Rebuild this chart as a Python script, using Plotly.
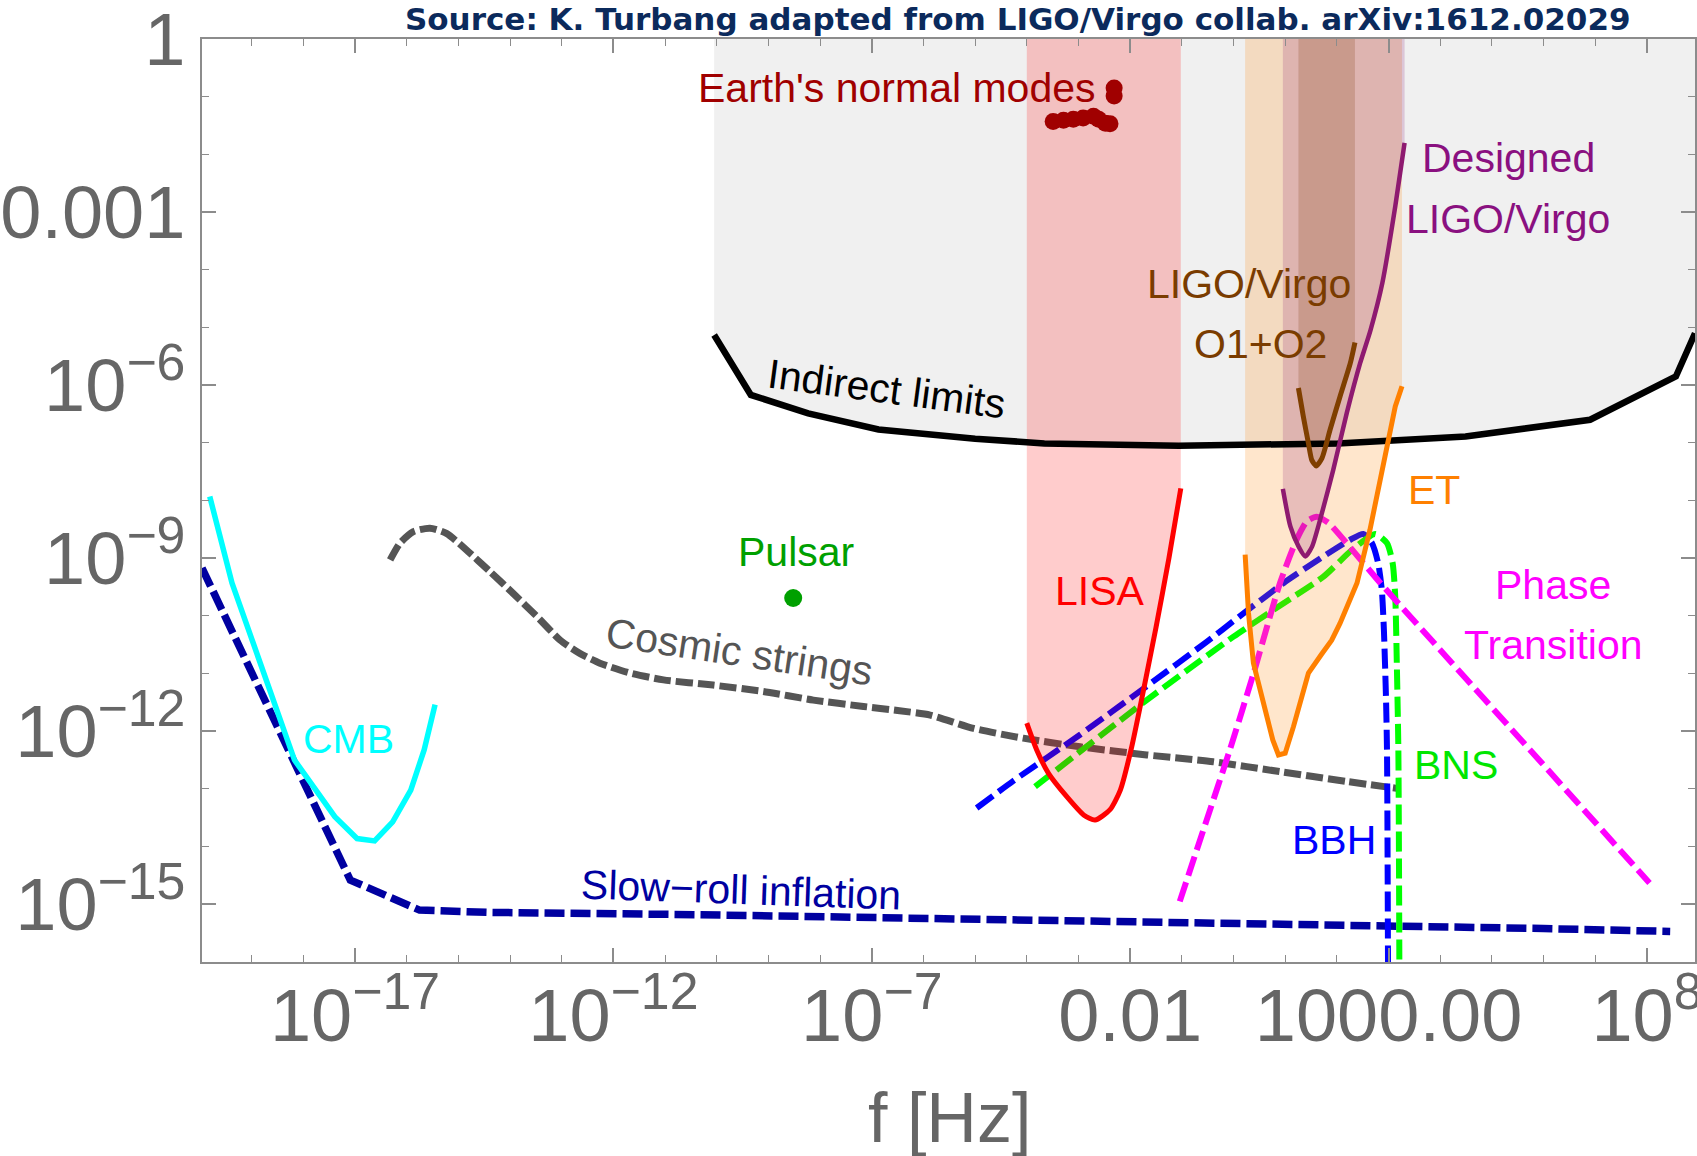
import numpy as np
import plotly.graph_objects as go

# ---------------- data: log10(f / Hz) and log10(Omega_GW) ----------------
indirect_logf = [-10.05, -9.34, -8.23, -6.87, -5.0, -3.66, -1.06, 2.02, 4.49, 6.90, 8.56, 8.93]
indirect_logom = [-5.13, -6.17, -6.49, -6.77, -6.93, -7.01, -7.05, -7.01, -6.89, -6.60, -5.85, -5.10]

slowroll_logf = [-19.96, -17.09, -15.75, -14.4, -10.35, -5.0, 0.0, 3.0, 6.0, 8.45]
slowroll_logom = [-9.17, -14.58, -15.10, -15.14, -15.18, -15.25, -15.31, -15.36, -15.42, -15.47]

cmb_logf = [-19.81, -19.38, -18.17, -17.39, -16.96, -16.62, -16.27, -15.92, -15.66, -15.45]
cmb_logom = [-7.93, -9.43, -12.50, -13.48, -13.86, -13.90, -13.57, -13.02, -12.32, -11.54]

cosmic_logf = [-16.32, -16.13, -15.87, -15.55, -15.23, -14.84, -14.39, -13.94, -13.48, -13.03,
               -12.65, -12.26, -11.68, -11.03, -10.07, -9.10, -8.13, -7.16, -6.50, -5.87,
               -5.03, -4.07, -2.97, -1.68, -0.39, 0.90, 2.19, 3.16]
cosmic_logom = [-9.03, -8.74, -8.54, -8.48, -8.57, -8.86, -9.23, -9.61, -10.01, -10.42,
                -10.65, -10.82, -10.99, -11.11, -11.20, -11.31, -11.46, -11.57, -11.64, -11.72,
                -11.95, -12.12, -12.27, -12.41, -12.53, -12.70, -12.87, -12.99]

bbh_logf = [-4.97, -4.26, -2.97, -1.68, -0.52, 0.13, 0.97, 1.74, 2.26, 2.51, 2.68, 2.80, 2.87, 2.91, 2.95, 2.97, 2.99]
bbh_logom = [-13.33, -12.86, -12.06, -11.22, -10.45, -10.0, -9.43, -8.97, -8.68, -8.58, -8.74, -9.09, -9.55, -10.24, -11.40, -12.32, -16.2]

bns_logf = [-3.84, -1.68, 0.0, 0.97, 1.74, 2.30, 2.74, 2.97, 3.08, 3.13, 3.16, 3.19, 3.21]
bns_logom = [-12.96, -11.46, -10.36, -9.78, -9.32, -8.85, -8.58, -8.74, -9.09, -9.67, -10.82, -12.32, -16.2]

pt_logf = [-1.04, -0.52, -0.07, 0.39, 0.90, 1.22, 1.42, 1.61, 1.84, 2.19, 2.84, 4.0, 8.05]
pt_logom = [-14.95, -13.54, -12.32, -10.99, -9.43, -8.68, -8.36, -8.28, -8.39, -8.74, -9.43, -10.59, -14.63]

lisa_logf = [-4.0, -3.81, -3.58, -3.23, -2.90, -2.68, -2.39, -2.19, -1.97, -1.74, -1.50, -1.25, -1.02]
lisa_logom = [-11.86, -12.32, -12.73, -13.13, -13.45, -13.54, -13.36, -13.02, -12.27, -11.28, -10.2, -9.0, -7.79]

et_logf = [0.225, 0.29, 0.385, 0.515, 0.65, 0.76, 0.87, 1.0, 1.16, 1.32, 1.45, 1.70, 1.90, 2.06, 2.39, 2.64, 2.84, 3.0, 3.13, 3.26]
et_logom = [-8.94, -9.95, -10.82, -11.30, -11.80, -12.15, -12.41, -12.38, -11.92, -11.40, -10.99, -10.67, -10.42, -10.13, -9.43, -8.51, -7.64, -6.89, -6.37, -6.02]

design_logf = [0.955, 1.10, 1.26, 1.39, 1.52, 1.71, 1.93, 2.19, 2.45, 2.65, 2.88, 3.13, 3.31]
design_logom = [-7.80, -8.45, -8.80, -8.97, -8.80, -8.22, -7.47, -6.49, -5.62, -5.05, -4.23, -2.90, -1.80]

o1o2_logf = [1.256, 1.35, 1.45, 1.515, 1.60, 1.71, 1.87, 2.06, 2.26, 2.35]
o1o2_logom = [-6.05, -6.54, -7.01, -7.30, -7.40, -7.27, -6.77, -6.20, -5.62, -5.26]

earth_logf = [-2.31, -2.31, -3.49, -3.29, -3.10, -2.91, -2.71, -2.61, -2.48, -2.39]
earth_logom = [-0.85, -0.99, -1.43, -1.41, -1.39, -1.37, -1.34, -1.39, -1.46, -1.47]

pulsar_logf = [-8.52]
pulsar_logom = [-9.69]

xtick_exp = [-17, -12, -7, -2, 3, 8]
xtick_text = ["10<sup>\u221217</sup>", "10<sup>\u221212</sup>", "10<sup>\u22127</sup>", "0.01", "1000.00", "10<sup>8</sup>"]
ytick_exp = [0, -3, -6, -9, -12, -15]
ytick_text = ["1", "0.001", "10<sup>\u22126</sup>", "10<sup>\u22129</sup>", "10<sup>\u221212</sup>", "10<sup>\u221215</sup>"]
xminor_exp = list(range(-19, 9))
yminor_exp = list(range(-16, 1))

# ---------------- helpers ----------------
def p10(a):
    return 10.0 ** np.asarray(a, dtype=float)

def band(logf, logom):
    xs = list(logf) + [logf[-1], logf[0], logf[0]]
    ys = list(logom) + [0.0, 0.0, logom[0]]
    return p10(xs), p10(ys)

FONT = "Liberation Sans, Arial, Helvetica, sans-serif"
fig = go.Figure()

# gray region above the indirect limits
gx, gy = band(indirect_logf, indirect_logom)
fig.add_trace(go.Scatter(x=gx, y=gy, fill="toself", fillcolor="#f0f0f0", mode="lines",
                         line=dict(width=0), hoverinfo="skip"))

def add_line(logf, logom, color, width, dash=None, shape="linear"):
    fig.add_trace(go.Scatter(x=p10(logf), y=p10(logom), mode="lines",
                             line=dict(color=color, width=width, dash=dash, shape=shape,
                                       smoothing=0.6 if shape == "spline" else None),
                             hoverinfo="skip"))

# signal (dashed) curves
add_line(slowroll_logf, slowroll_logom, "#0000a0", 7.5, "20px,6px")
add_line(cosmic_logf, cosmic_logom, "#555555", 7, "17px,5px", "spline")
add_line(bbh_logf, bbh_logom, "#0000ff", 6, "20px,7px", "spline")
add_line(bns_logf, bns_logom, "#00ff00", 6, "20px,7px", "spline")
add_line(pt_logf, pt_logom, "#ff00ff", 6, "20px,7px", "spline")
add_line(cmb_logf, cmb_logom, "#00ffff", 5.5)

# detector sensitivity regions (translucent, drawn over the signal curves)
for lf, lo, fc in [(lisa_logf, lisa_logom, "rgba(255,0,0,0.2)"),
                   (et_logf, et_logom, "rgba(255,128,0,0.2)"),
                   (design_logf, design_logom, "rgba(142,32,116,0.2)"),
                   (o1o2_logf, o1o2_logom, "rgba(120,50,0,0.2)")]:
    bx, by = band(lf, lo)
    fig.add_trace(go.Scatter(x=bx, y=by, fill="toself", fillcolor=fc, mode="lines",
                             line=dict(width=0), hoverinfo="skip"))

add_line(indirect_logf, indirect_logom, "#000000", 6.5)
add_line(lisa_logf, lisa_logom, "#ff0000", 5, None, "spline")
add_line(et_logf, et_logom, "#ff8000", 5)
add_line(design_logf, design_logom, "#8e1a70", 4.5, None, "spline")
add_line(o1o2_logf, o1o2_logom, "#7f3f00", 5, None, "spline")

fig.add_trace(go.Scatter(x=p10(earth_logf), y=p10(earth_logom), mode="markers",
                         marker=dict(color="#a00000", size=17, line=dict(width=0)), hoverinfo="skip"))
fig.add_trace(go.Scatter(x=p10(pulsar_logf), y=p10(pulsar_logom), mode="markers",
                         marker=dict(color="#00a000", size=18, line=dict(width=0)), hoverinfo="skip"))

# ---------------- labels ----------------
labels = [
    ("Earth's normal modes", -2.62, -0.85, "#a00000", 0, "right"),
    ("Designed", 5.33, -2.07, "#8a1080", 0, "center"),
    ("LIGO/Virgo", 5.31, -3.12, "#8a1080", 0, "center"),
    ("LIGO/Virgo", 0.30, -4.24, "#7a3c00", 0, "center"),
    ("O1+O2", 0.515, -5.28, "#7a3c00", 0, "center"),
    ("Indirect limits", -6.72, -6.06, "#000000", 7.5, "center"),
    ("ET", 3.88, -7.82, "#ff8000", 0, "center"),
    ("Pulsar", -8.46, -8.89, "#00a000", 0, "center"),
    ("LISA", -2.58, -9.57, "#ff0000", 0, "center"),
    ("Phase", 6.19, -9.47, "#ff00ff", 0, "center"),
    ("Transition", 6.19, -10.50, "#ff00ff", 0, "center"),
    ("Cosmic strings", -9.55, -10.62, "#555555", 8.5, "center"),
    ("CMB", -17.12, -12.14, "#00ffff", 0, "center"),
    ("BNS", 4.31, -12.58, "#00e600", 0, "center"),
    ("BBH", 1.94, -13.88, "#0000ff", 0, "center"),
    ("Slow\u2212roll inflation", -9.53, -14.75, "#0000a0", 2, "center"),
]
annotations = []
for txt, lx, ly, col, ang, xa in labels:
    annotations.append(dict(text=txt, x=lx, y=ly, xref="x", yref="y", showarrow=False,
                            xanchor=xa, yanchor="middle", textangle=ang,
                            font=dict(family=FONT, size=41, color=col)))

annotations.append(dict(text="<b>Source: K. Turbang adapted from LIGO/Virgo collab. arXiv:1612.02029</b>",
                        x=0.5466, y=1.0217, xref="paper", yref="paper", showarrow=False,
                        xanchor="center", yanchor="middle",
                        font=dict(family="DejaVu Sans, Verdana, sans-serif", size=31, color="#0b2a5c")))
annotations.append(dict(text="f [Hz]", x=0.501, y=-0.169, xref="paper", yref="paper", showarrow=False,
                        xanchor="center", yanchor="middle",
                        font=dict(family=FONT, size=70, color="#666666")))

axis_common = dict(type="log", showgrid=False, zeroline=False, showline=True, linecolor="#8c8c8c",
                   linewidth=1.5, mirror="ticks", ticks="inside", ticklen=14, tickwidth=1.5,
                   tickcolor="#8c8c8c", automargin=False, ticklabeloverflow="allow",
                   tickfont=dict(family=FONT, size=74, color="#666666"))

fig.update_layout(
    width=1697, height=1156, margin=dict(l=202, r=2, t=39, b=194),
    plot_bgcolor="white", paper_bgcolor="white", showlegend=False,
    annotations=annotations,
    xaxis=dict(axis_common, range=[-19.96, 8.93], tickmode="array",
               tickvals=p10(xtick_exp), ticktext=xtick_text, ticklabelstandoff=-12,
               minor=dict(tickmode="array", tickvals=p10(xminor_exp), ticks="inside", ticklen=7,
                          tickwidth=1.2, tickcolor="#8c8c8c", showgrid=False)),
    yaxis=dict(axis_common, range=[-16, 0], tickmode="array",
               tickvals=p10(ytick_exp), ticktext=ytick_text, ticklabelstandoff=0,
               minor=dict(tickmode="array", tickvals=p10(yminor_exp), ticks="inside", ticklen=7,
                          tickwidth=1.2, tickcolor="#8c8c8c", showgrid=False)),
)

fig.write_html("out.html")
